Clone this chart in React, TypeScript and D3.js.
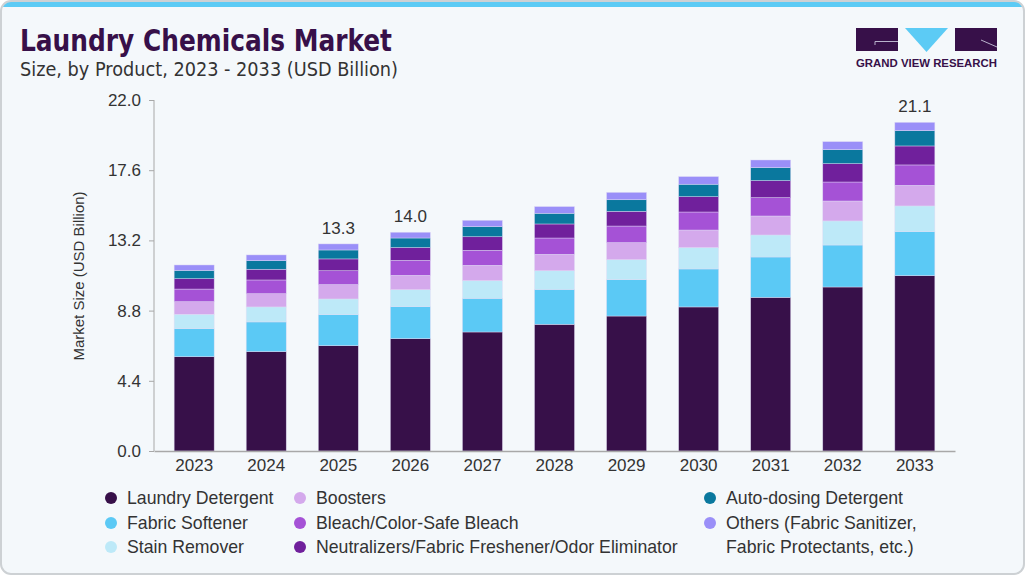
import React, { useEffect, useRef } from "react";
import * as d3 from "d3";

// values (USD Billion)
const years = ["2023", "2024", "2025", "2026", "2027", "2028", "2029", "2030", "2031", "2032", "2033"];
const laundryDetergent = [5.91, 6.23, 6.6, 7.04, 7.46, 7.94, 8.46, 9.03, 9.63, 10.28, 10.99];
const fabricSoftener = [1.76, 1.86, 1.95, 2.01, 2.11, 2.19, 2.28, 2.38, 2.53, 2.63, 2.76];
const stainRemover = [0.9, 0.94, 0.98, 1.06, 1.11, 1.17, 1.25, 1.34, 1.38, 1.51, 1.61];
const boosters = [0.79, 0.83, 0.9, 0.9, 0.96, 1.03, 1.07, 1.1, 1.19, 1.25, 1.29];
const bleach = [0.79, 0.86, 0.87, 0.94, 0.94, 1.02, 1.04, 1.13, 1.15, 1.19, 1.28];
const neutralizers = [0.65, 0.67, 0.74, 0.8, 0.85, 0.88, 0.92, 0.96, 1.07, 1.15, 1.19];
const autoDosing = [0.52, 0.54, 0.56, 0.6, 0.63, 0.67, 0.73, 0.78, 0.81, 0.88, 0.96];
const others = [0.34, 0.36, 0.38, 0.36, 0.4, 0.42, 0.46, 0.48, 0.48, 0.5, 0.52];

const seriesNames = [
  "Laundry Detergent",
  "Fabric Softener",
  "Stain Remover",
  "Boosters",
  "Bleach/Color-Safe Bleach",
  "Neutralizers/Fabric Freshener/Odor Eliminator",
  "Auto-dosing Detergent",
  "Others (Fabric Sanitizer, Fabric Protectants, etc.)",
];
const seriesValues = [
  laundryDetergent,
  fabricSoftener,
  stainRemover,
  boosters,
  bleach,
  neutralizers,
  autoDosing,
  others,
];
const seriesColors = [
  "#371049",
  "#5bc9f5",
  "#bde9f8",
  "#d4a9ec",
  "#a552d6",
  "#70209c",
  "#0a789e",
  "#9a8ff8",
];

const yTicks = [0, 4.4, 8.8, 13.2, 17.6, 22.0];
const labeledYears = ["2025", "2026", "2033"];
const labelTexts = ["13.3", "14.0", "21.1"];

const W = 1025;
const H = 576;
const FONT = "'Liberation Sans', Arial, sans-serif";
const NARROW = "'Liberation Sans Narrow', 'DejaVu Sans Condensed', sans-serif";

const App: React.FC = () => {
  const svgRef = useRef<SVGSVGElement>(null);

  useEffect(() => {
    if (!svgRef.current) return;
    const svg = d3.select(svgRef.current);
    svg.selectAll("*").remove();

    // card
    const defs = svg.append("defs");
    defs
      .append("clipPath")
      .attr("id", "card-clip")
      .append("rect")
      .attr("x", 1)
      .attr("y", 1)
      .attr("width", W - 2)
      .attr("height", H - 3)
      .attr("rx", 10);

    svg
      .append("rect")
      .attr("x", 1)
      .attr("y", 1)
      .attr("width", W - 2)
      .attr("height", H - 3)
      .attr("rx", 10)
      .attr("fill", "#f4f8fb");

    svg
      .append("rect")
      .attr("clip-path", "url(#card-clip)")
      .attr("x", 0)
      .attr("y", 0)
      .attr("width", W)
      .attr("height", 7)
      .attr("fill", "#5ccbf5");

    svg
      .append("rect")
      .attr("x", 1)
      .attr("y", 1)
      .attr("width", W - 2)
      .attr("height", H - 3)
      .attr("rx", 10)
      .attr("fill", "none")
      .attr("stroke", "#cdd1d4")
      .attr("stroke-width", 2);

    // title
    svg
      .append("text")
      .attr("x", 20)
      .attr("y", 51)
      .attr("textLength", 372)
      .attr("lengthAdjust", "spacingAndGlyphs")
      .style("font-family", NARROW)
      .style("font-size", "30px")
      .style("font-weight", "700")
      .style("fill", "#371049")
      .text("Laundry Chemicals Market");

    svg
      .append("text")
      .attr("x", 20)
      .attr("y", 76)
      .attr("textLength", 378)
      .attr("lengthAdjust", "spacingAndGlyphs")
      .style("font-family", NARROW)
      .style("font-size", "20px")
      .style("fill", "#333")
      .text("Size, by Product, 2023 - 2033 (USD Billion)");

    // logo
    const logo = svg.append("g");
    logo.append("rect").attr("x", 856).attr("y", 28).attr("width", 42).attr("height", 23).attr("fill", "#371049");
    logo
      .append("path")
      .attr("d", "M905,28 L948,28 L926.5,52 Z")
      .attr("fill", "#5ccbf5");
    logo.append("rect").attr("x", 955).attr("y", 28).attr("width", 42).attr("height", 23).attr("fill", "#371049");
    logo
      .append("path")
      .attr("d", "M875,45 L875,41.5 L898,41.5")
      .attr("fill", "none")
      .attr("stroke", "#b9b2cc")
      .attr("stroke-width", 1);
    logo
      .append("path")
      .attr("d", "M981,40 L997,47")
      .attr("fill", "none")
      .attr("stroke", "#b9b2cc")
      .attr("stroke-width", 1);
    logo
      .append("text")
      .attr("x", 926.5)
      .attr("y", 67)
      .attr("text-anchor", "middle")
      .attr("textLength", 141)
      .attr("lengthAdjust", "spacingAndGlyphs")
      .style("font-family", FONT)
      .style("font-size", "10.5px")
      .style("font-weight", "700")
      .style("fill", "#371049")
      .text("GRAND VIEW RESEARCH");

    // scales
    const x = d3
      .scaleBand<string>()
      .domain(years)
      .range([154, 955])
      .paddingInner(0.445)
      .paddingOuter(0.28);
    const y = d3.scaleLinear().domain([0, 22]).range([451, 100]);

    const rows = years.map((yr, i) => {
      const row: Record<string, number | string> = { year: yr };
      seriesNames.forEach((n, k) => (row[n] = seriesValues[k][i]));
      return row;
    });
    const stack = d3.stack<Record<string, number | string>>().keys(seriesNames);
    const stacked = stack(rows as any);

    // bars
    const layers = svg
      .append("g")
      .selectAll("g")
      .data(stacked)
      .enter()
      .append("g")
      .attr("fill", (_d, k) => seriesColors[k]);

    layers
      .selectAll("rect")
      .data((d) => d)
      .enter()
      .append("rect")
      .attr("x", (d) => x(String(d.data.year))!)
      .attr("width", x.bandwidth())
      .attr("y", (d) => y(d[1]))
      .attr("height", (d) => y(d[0]) - y(d[1]))
      .attr("stroke", "rgba(225,220,245,0.7)")
      .attr("stroke-width", 0.6);

    // value labels
    const totals = years.map((_yr, i) => d3.sum(seriesValues, (s) => s[i]));
    svg
      .append("g")
      .selectAll("text")
      .data(labeledYears)
      .enter()
      .append("text")
      .attr("x", (d) => x(d)! + x.bandwidth() / 2)
      .attr("y", (d) => y(totals[years.indexOf(d)]) - 10)
      .attr("text-anchor", "middle")
      .style("font-family", FONT)
      .style("font-size", "17px")
      .style("fill", "#333")
      .text((_d, i) => labelTexts[i]);

    // axes
    const yAxis = svg
      .append("g")
      .attr("transform", "translate(154,0)")
      .call(
        d3
          .axisLeft(y)
          .tickValues(yTicks)
          .tickSize(5)
          .tickPadding(8)
          .tickFormat((v) => d3.format(".1f")(v as number))
      );
    yAxis.select(".domain").attr("stroke", "#a8a8a8").attr("d", "M0,100V451");
    yAxis.selectAll(".tick line").attr("stroke", "#a8a8a8");
    yAxis
      .selectAll(".tick text")
      .style("font-family", FONT)
      .style("font-size", "17px")
      .style("fill", "#333");

    const xAxis = svg
      .append("g")
      .attr("transform", "translate(0,451)")
      .call(d3.axisBottom(x).tickSize(0).tickPadding(8));
    xAxis.select(".domain").attr("stroke", "#a8a8a8").attr("stroke-width", 1.3);
    xAxis
      .selectAll(".tick text")
      .style("font-family", FONT)
      .style("font-size", "17px")
      .style("fill", "#333");

    svg
      .append("text")
      .attr("transform", "translate(84,276) rotate(-90)")
      .attr("text-anchor", "middle")
      .style("font-family", FONT)
      .style("font-size", "15px")
      .style("fill", "#333")
      .text("Market Size (USD Billion)");

    // legend
    const legendPos = [
      [111, 498],
      [111, 523],
      [111, 547],
      [300, 498],
      [300, 523],
      [300, 547],
      [710, 498],
      [710, 523],
    ];
    const legend = svg.append("g");
    seriesNames.forEach((name, k) => {
      const [lx, ly] = legendPos[k];
      const g = legend.append("g").attr("transform", `translate(${lx},${ly})`);
      g.append("circle").attr("r", 6).attr("fill", seriesColors[k]);
      const lines =
        k === 7 ? ["Others (Fabric Sanitizer,", "Fabric Protectants, etc.)"] : [name];
      lines.forEach((ln, j) => {
        g.append("text")
          .attr("x", 16)
          .attr("y", j * 24)
          .attr("dy", "0.35em")
          .style("font-family", FONT)
          .style("font-size", "17.7px")
          .style("fill", "#333")
          .text(ln);
      });
    });
  }, []);

  return (
    <div style={{ position: "fixed", left: 0, top: 0, background: "#fff" }}>
      <svg ref={svgRef} width={W} height={H} style={{ display: "block" }} />
    </div>
  );
};

export default App;
